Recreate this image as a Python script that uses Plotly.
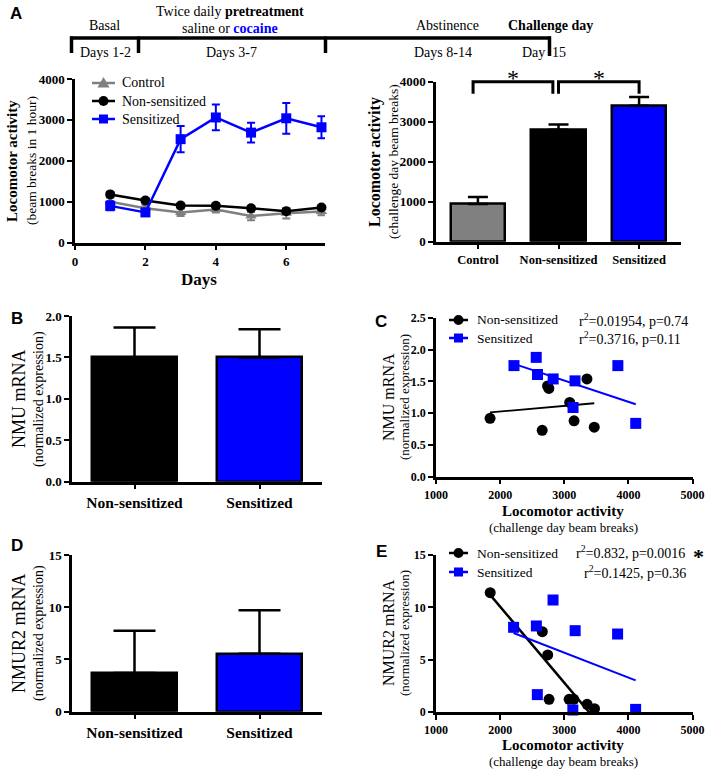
import plotly.graph_objects as go
import numpy as np

W, H = 709, 772
def X(px): return px / W
def Y(py): return 1 - py / H

SERIF = "Liberation Serif"
SANS = "Liberation Sans"
GRAY = "#808080"
BLUE = "#0000FF"
BLACK = "#000000"

# ---------------- data ----------------
# Panel A (left): locomotor activity per day
days = [1, 2, 3, 4, 5, 6, 7]
ctrl_mean = [1000, 840, 740, 810, 650, 720, 760]
ctrl_err = [100, 80, 90, 70, 100, 130, 90]
nons_mean = [1180, 1030, 910, 900, 840, 770, 860]
nons_err = [60, 50, 50, 50, 50, 60, 50]
sens_mean = [900, 740, 2530, 3060, 2690, 3040, 2820]
sens_err = [110, 90, 320, 315, 240, 375, 270]

# Panel A (right): challenge day
groups3 = ["Control", "Non-sensitized", "Sensitized"]
challenge_mean = [940, 2800, 3400]
challenge_err = [180, 130, 220]

# Panels B, D
groups2 = ["Non-sensitized", "Sensitized"]
nmu_mean = [1.5, 1.5]
nmu_err = [0.36, 0.34]
nmur2_mean = [3.7, 5.55]
nmur2_err = [4.05, 4.15]

# Panel C: NMU vs locomotor
c_nons_x = [1843, 2656, 2740, 2760, 3085, 3153, 3354, 3468]
c_nons_y = [0.92, 0.73, 1.43, 1.39, 1.17, 0.88, 1.54, 0.78]
c_sens_x = [2216, 2563, 2583, 2827, 3137, 3168, 3836, 4115]
c_sens_y = [1.75, 1.88, 1.61, 1.54, 1.09, 1.51, 1.75, 0.84]

# Panel E: NMUR2 vs locomotor
e_nons_x = [1845, 2658, 2742, 2763, 3076, 3149, 3357, 3472]
e_nons_y = [11.4, 7.67, 5.45, 1.21, 1.21, 1.21, 0.73, 0.32]
e_sens_x = [2210, 2565, 2580, 2825, 3134, 3170, 3832, 4113]
e_sens_y = [8.09, 8.22, 1.66, 10.7, 0.19, 7.77, 7.45, 0.25]

c_stats = ["r<sup>2</sup>=0.01954, p=0.74", "r<sup>2</sup>=0.3716, p=0.11"]
e_stats = ["r<sup>2</sup>=0.832, p=0.0016", "r<sup>2</sup>=0.1425, p=0.36"]

fig = go.Figure()

# ---------------- Panel A left ----------------
series = [("Control", ctrl_mean, ctrl_err, GRAY, "triangle-up"),
          ("Non-sensitized", nons_mean, nons_err, BLACK, "circle"),
          ("Sensitized", sens_mean, sens_err, BLUE, "square")]
for name, m, e, col, sym in series:
    fig.add_trace(go.Scatter(
        x=days, y=m, name=name, mode="lines+markers",
        line=dict(color=col, width=2.5),
        marker=dict(symbol=sym, size=10, color=col),
        error_y=dict(type="data", array=e, color=col, thickness=2, width=4),
        xaxis="x", yaxis="y", showlegend=False, cliponaxis=False))

# ---------------- Panel A right ----------------
fig.add_trace(go.Bar(
    x=groups3, y=challenge_mean, width=0.68,
    marker=dict(color=[GRAY, BLACK, BLUE], line=dict(color="black", width=2.5)),
    error_y=dict(type="data", symmetric=False, array=challenge_err,
                 arrayminus=[0, 0, 0], color="black", thickness=2.5, width=10),
    xaxis="x2", yaxis="y2", showlegend=False))

# ---------------- Panel B ----------------
fig.add_trace(go.Bar(
    x=groups2, y=nmu_mean, width=0.68,
    marker=dict(color=[BLACK, BLUE], line=dict(color="black", width=2.5)),
    error_y=dict(type="data", symmetric=False, array=nmu_err,
                 arrayminus=[0, 0], color="black", thickness=2.5, width=21),
    xaxis="x3", yaxis="y3", showlegend=False))

# ---------------- Panel D ----------------
fig.add_trace(go.Bar(
    x=groups2, y=nmur2_mean, width=0.68,
    marker=dict(color=[BLACK, BLUE], line=dict(color="black", width=2.5)),
    error_y=dict(type="data", symmetric=False, array=nmur2_err,
                 arrayminus=[0, 0], color="black", thickness=2.5, width=21),
    xaxis="x4", yaxis="y4", showlegend=False))

# ---------------- Panels C and E (scatter + fits) ----------------
def add_scatter_panel(nx, ny, sx, sy, xa, ya, lw_black):
    for xs, ys, col, sym, lw in [(nx, ny, BLACK, "circle", lw_black), (sx, sy, BLUE, "square", 2)]:
        k, b = np.polyfit(xs, ys, 1)
        xf = [min(xs), max(xs)]
        yf = [k * v + b for v in xf]
        fig.add_trace(go.Scatter(x=xf, y=yf, mode="lines", line=dict(color=col, width=lw),
                                 xaxis=xa, yaxis=ya, showlegend=False, hoverinfo="skip"))
        fig.add_trace(go.Scatter(x=xs, y=ys, mode="markers",
                                 marker=dict(symbol=sym, size=11, color=col),
                                 xaxis=xa, yaxis=ya, showlegend=False, cliponaxis=False))

add_scatter_panel(c_nons_x, c_nons_y, c_sens_x, c_sens_y, "x5", "y5", 1.8)
add_scatter_panel(e_nons_x, e_nons_y, e_sens_x, e_sens_y, "x6", "y6", 2.5)

# ---------------- axes ----------------
def axis(dom_px, rng, vertical, anchor, tsize=13, **kw):
    if vertical:
        dom = [Y(dom_px[0]), Y(dom_px[1])]
    else:
        dom = [X(dom_px[0]), X(dom_px[1])]
    d = dict(domain=dom, range=rng, anchor=anchor, showline=True, linewidth=2.5,
             linecolor="black", ticks="outside", ticklen=5, tickwidth=2,
             tickcolor="black", showgrid=False, zeroline=False, fixedrange=True,
             automargin=False,
             tickfont=dict(family=SERIF, size=tsize, color="black", weight="bold"))
    d.update(kw)
    return d

lay = dict(
    xaxis=axis([75, 325], [0, 7.1], False, "y", tickvals=[0, 2, 4, 6]),
    yaxis=axis([242.7, 79], [0, 4000], True, "x", tickvals=[0, 1000, 2000, 3000, 4000]),
    xaxis2=axis([436, 681], [-0.52, 2.52], False, "y2", tsize=12.5, type="category"),
    yaxis2=axis([241.7, 81.7], [0, 4000], True, "x2", tickvals=[0, 1000, 2000, 3000, 4000]),
    xaxis3=axis([72, 322], [-0.5, 1.5], False, "y3", tsize=15.5, type="category"),
    yaxis3=axis([481.7, 316], [0, 2.0], True, "x3", tickvals=[0, 0.5, 1.0, 1.5, 2.0], tickformat=".1f"),
    xaxis4=axis([72, 322], [-0.5, 1.5], False, "y4", tsize=15.5, type="category"),
    yaxis4=axis([711.7, 555], [0, 15], True, "x4", tickvals=[0, 5, 10, 15]),
    xaxis5=axis([436, 692.5], [1000, 5000], False, "y5", tsize=12, tickvals=[1000, 2000, 3000, 4000, 5000]),
    yaxis5=axis([476.7, 318], [0, 2.5], True, "x5", tsize=12, tickvals=[0, 0.5, 1.0, 1.5, 2.0, 2.5], tickformat=".1f"),
    xaxis6=axis([436, 692.5], [1000, 5000], False, "y6", tsize=12, tickvals=[1000, 2000, 3000, 4000, 5000]),
    yaxis6=axis([712, 555], [0, 15], True, "x6", tsize=12, tickvals=[0, 5, 10, 15]),
)

# ---------------- shapes (timeline, brackets, legend glyphs) ----------------
shapes = []
ann = []

def txt(px, py, text, size=14, family=SERIF, angle=0, xanchor="center", color="black"):
    ann.append(dict(x=X(px), y=Y(py), xref="paper", yref="paper", text=text, showarrow=False,
                    font=dict(family=family, size=size, color=color), textangle=angle,
                    xanchor=xanchor, yanchor="middle"))

def pline(x0, y0, x1, y1, col="black", w=3.5):
    shapes.append(dict(type="line", xref="paper", yref="paper", x0=X(x0), x1=X(x1),
                       y0=Y(y0), y1=Y(y1), line=dict(color=col, width=w)))

def glyph(cx, cy, sym, col, r):
    if sym == "circle":
        shapes.append(dict(type="circle", xref="paper", yref="paper", x0=X(cx - r), x1=X(cx + r),
                           y0=Y(cy + r), y1=Y(cy - r), fillcolor=col, line=dict(color=col, width=0)))
    elif sym == "square":
        shapes.append(dict(type="rect", xref="paper", yref="paper", x0=X(cx - r), x1=X(cx + r),
                           y0=Y(cy + r), y1=Y(cy - r), fillcolor=col, line=dict(color=col, width=0)))
    else:
        p = "M {},{} L {},{} L {},{} Z".format(X(cx - r * 1.1), Y(cy + r * 0.8), X(cx + r * 1.1),
                                                Y(cy + r * 0.8), X(cx), Y(cy - r * 1.1))
        shapes.append(dict(type="path", xref="paper", yref="paper", path=p, fillcolor=col,
                           line=dict(color=col, width=0)))

def legend(x0, x1, xt, rows, size):
    for (name, col, sym, r), yy in rows:
        pline(x0, yy, x1, yy, col, 2.5)
        glyph((x0 + x1) / 2, yy, sym, col, r)
        txt(xt, yy, name, size=size, xanchor="left")

# timeline
tl_y = 38
pline(70, tl_y, 551, tl_y)
for px, bottom in [(71.5, 53), (138.5, 53), (325.5, 53), (549.5, 56)]:
    pline(px, tl_y - 1.5, px, bottom)

# significance brackets for panel A right
def cat_px(i):
    return 436 + (i + 0.52) / 3.04 * (681 - 436)
def a2_py(v):
    return 241.7 - v / 4000 * 160
br_top, br_bot = 4000, 3700
brackets = [(-0.06, 0.93), (1.0, 2.0)]
for i0, i1 in brackets:
    shapes.append(dict(type="path", xref="paper", yref="paper",
                       path="M {a},{b} L {a},{c} L {d},{c} L {d},{b}".format(
                           a=X(cat_px(i0)), b=Y(a2_py(br_bot)), c=Y(a2_py(br_top)), d=X(cat_px(i1))),
                       line=dict(color="black", width=3)))

# legends
legend(92, 115, 120, [(("Control", GRAY, "triangle", 5.5), 83),
                      (("Non-sensitized", BLACK, "circle", 5), 101),
                      (("Sensitized", BLUE, "square", 4.5), 119)], 14)
legend(449, 468, 475, [(("Non-sensitized", BLACK, "circle", 5), 320),
                       (("Sensitized", BLUE, "square", 4.5), 338)], 13.5)
legend(449, 468, 475, [(("Non-sensitized", BLACK, "circle", 5), 553),
                       (("Sensitized", BLUE, "square", 4.5), 572)], 13.5)

lay["shapes"] = shapes

# panel letters
for L, px, py in [("A", 16, 14), ("B", 17, 318), ("C", 381, 322), ("D", 17, 545), ("E", 381, 551)]:
    txt(px, py, "<b>%s</b>" % L, size=17, family=SANS)

# timeline text
txt(104, 25, "Basal")
txt(230, 11, "Twice daily <b>pretreatment</b>")
txt(230, 28, "saline or <b><span style='color:#0000FF'>cocaine</span></b>")
txt(447, 25, "Abstinence")
txt(550, 25, "<b>Challenge day</b>")
txt(105, 52, "Days 1-2")
txt(231, 52, "Days 3-7")
txt(443, 52, "Days 8-14")
txt(533, 52, "Day")
txt(559, 52, "15")

# panel A left titles
txt(199, 280, "<b>Days</b>", size=17)
txt(12, 161, "<b>Locomotor activity</b>", size=15, angle=-90)
txt(32, 161, "(beam breaks in 1 hour)", size=13.5, angle=-90)

# panel A right titles
txt(375, 162, "<b>Locomotor activity</b>", size=16, angle=-90)
txt(394, 162, "(challenge day beam breaks)", size=13.5, angle=-90)
for i0, i1 in brackets:
    txt((cat_px(i0) + cat_px(i1)) / 2, 78, "*", size=24)

# panel B/D titles
txt(19, 399, "NMU mRNA", size=18, angle=-90)
txt(39, 399, "(normalized expression)", size=14, angle=-90)
txt(19, 633, "NMUR2 mRNA", size=18, angle=-90)
txt(39, 633, "(normalized expression)", size=14, angle=-90)

# panel C/E titles
for yc, yt1, yt2, lab in [(397, 511, 527, "NMU mRNA"), (633, 745, 761, "NMUR2 mRNA")]:
    txt(388, yc, lab, size=16, angle=-90)
    txt(404, yc, "(normalized expression)", size=13, angle=-90)
    txt(563, yt1, "<b>Locomotor activity</b>", size=15)
    txt(563, yt2, "(challenge day beam breaks)", size=13)

# stats text
txt(577, 320, c_stats[0], size=14, xanchor="left")
txt(577, 338, c_stats[1], size=14, xanchor="left")
txt(574, 552, e_stats[0], size=14, xanchor="left")
txt(582, 572, e_stats[1], size=14, xanchor="left")
txt(698, 556, "<b>*</b>", size=22)

lay["annotations"] = ann

fig.update_layout(**lay)
fig.update_layout(width=W, height=H, margin=dict(l=0, r=0, t=0, b=0, pad=0),
                  paper_bgcolor="white", plot_bgcolor="white",
                  bargap=0, showlegend=False,
                  font=dict(family=SERIF, color="black"))

fig.write_html("out.html", config={"displayModeBar": False},
               post_script="document.body.style.margin='0px';document.body.style.overflow='hidden';")
